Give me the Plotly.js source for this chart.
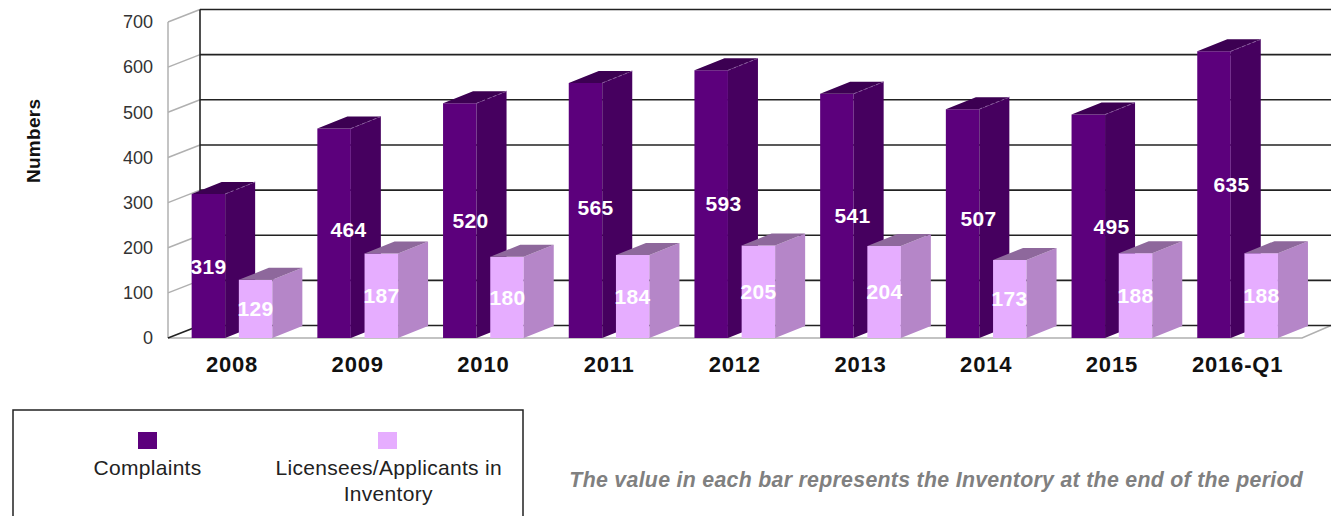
<!DOCTYPE html>
<html>
<head>
<meta charset="utf-8">
<title>Complaints and Licensees/Applicants in Inventory</title>
<script src="https://cdn.plot.ly/plotly-3.0.1.min.js"></script>
<style>
  html, body { margin: 0; padding: 0; background: #fff; overflow: hidden; }
  #chart { width: 1340px; height: 516px; }
  #chart .xtick text { letter-spacing: 0.8px; }
  #chart .annotation-text { letter-spacing: 0.3px; }
</style>
</head>
<body>
<div id="chart"></div>
<script>
// Chart values
const categories = ['2008', '2009', '2010', '2011', '2012', '2013', '2014', '2015', '2016-Q1'];
const complaints = [319, 464, 520, 565, 593, 541, 507, 495, 635];
const inventory = [129, 187, 180, 184, 205, 204, 173, 188, 188];
const yTicks = [0, 100, 200, 300, 400, 500, 600, 700];

// Pixel nudges for the complaint value labels, which do not sit at bar centres
const complaintLabelDx = [0, 14, 11, 10, 12, 16, 16, 23, 17];
const complaintLabelDy = [0, 4, 0, 3, 1, 0, 5, 0, 10];

// Colours of the three visible faces of each bar
const darkFaces = { front: '#5c007c', side: '#46005f', top: '#3c0052' };
const lightFaces = { front: '#e6adff', side: '#b586c8', top: '#8e689c' };

const W = 1340, H = 516;
const plotLeft = 164, plotRight = 1336, plotTop = 4, plotBottom = 342;

// Scales: one category step is 125.7 px, one value unit is 0.4514 px
const pxPerCat = 125.7, pxPerVal = 0.4514;
const firstCentre = 232, zeroPx = 338;
const xAt = px => (px - firstCentre) / pxPerCat;
const xRange = [xAt(plotLeft), xAt(plotRight)];
const yRange = [(zeroPx - plotBottom) / pxPerVal, (zeroPx - plotTop) / pxPerVal];

// Bar and oblique-projection sizes, in axis units
const barWidth = 33.5 / pxPerCat;
const barOffset = 23.6 / pxPerCat;
const depthX = 30 / pxPerCat;
const depthY = 12 / pxPerVal;
const wallY = 12.5 / pxPerVal;
const frontLeft = xAt(168), backLeft = xAt(200);
const frontEnd = xAt(1302), backEnd = xAt(1331);

const idx = categories.map((_, i) => i);

function polygons(values, shift, corners) {
  const xs = [], ys = [];
  values.forEach((v, i) => {
    corners(i + shift, v).forEach(c => { xs.push(c[0]); ys.push(c[1]); });
    xs.push(null); ys.push(null);
  });
  return { x: xs, y: ys };
}
const sideFace = (x, v) => {
  const r = x + barWidth / 2;
  return [[r, 0], [r + depthX, depthY], [r + depthX, v + depthY], [r, v], [r, 0]];
};
const topFace = (x, v) => {
  const l = x - barWidth / 2, r = x + barWidth / 2;
  return [[l, v], [l + depthX, v + depthY], [r + depthX, v + depthY], [r, v], [l, v]];
};

function faceTrace(values, shift, corners, color, axes) {
  const p = polygons(values, shift, corners);
  return {
    type: 'scatter', mode: 'lines', x: p.x, y: p.y, fill: 'toself', fillcolor: color,
    line: { width: 0, color: color }, hoverinfo: 'skip', showlegend: false,
    xaxis: axes[0], yaxis: axes[1]
  };
}

function barSeries(name, values, shift, faces, axes) {
  return [
    {
      type: 'bar', name: name, x: idx.map(i => i + shift), y: values, width: barWidth,
      marker: { color: faces.front, line: { width: 0 } }, showlegend: false,
      xaxis: axes[0], yaxis: axes[1]
    },
    faceTrace(values, shift, sideFace, faces.side, axes),
    faceTrace(values, shift, topFace, faces.top, axes)
  ];
}

// Dotted highlight along the back top edge of the dark bars' side faces
function edgeTrace(values, shift, color, axes) {
  const p = polygons(values, shift, (x, v) => {
    const r = x + barWidth / 2;
    return [[r, v], [r + depthX, v + depthY]];
  });
  return {
    type: 'scatter', mode: 'lines', x: p.x, y: p.y, line: { width: 1, color: color, dash: 'dot' },
    hoverinfo: 'skip', showlegend: false, xaxis: axes[0], yaxis: axes[1]
  };
}

// Back wall, left wall and floor edges
const gridX = [], gridY = [], sideX = [], sideY = [];
yTicks.forEach(t => {
  gridX.push(backLeft, backEnd, null);
  gridY.push(t + wallY, t + wallY, null);
  if (t > 0) {
    sideX.push(frontLeft, backLeft, null);
    sideY.push(t, t + wallY, null);
  }
});
const topTick = yTicks[yTicks.length - 1];
gridX.push(backLeft, backLeft, null, frontLeft, backLeft);
gridY.push(wallY, topTick + wallY, null, 0, wallY);
sideX.push(frontLeft, frontLeft, null, frontLeft, frontEnd, backEnd);
sideY.push(0, topTick, null, 0, 0, wallY);

const traces = [
  {
    type: 'scatter', mode: 'lines', x: sideX, y: sideY, cliponaxis: false,
    line: { color: '#b0b0b0', width: 1.5 }, hoverinfo: 'skip', showlegend: false
  },
  {
    type: 'scatter', mode: 'lines', x: gridX, y: gridY, cliponaxis: false,
    line: { color: '#222222', width: 1.6 }, hoverinfo: 'skip', showlegend: false
  },
  ...barSeries('Complaints', complaints, -barOffset, darkFaces, ['x2', 'y2']),
  edgeTrace(complaints, -barOffset, '#8a5aa0', ['x2', 'y2']),
  ...barSeries('Licensees/Applicants in Inventory', inventory, barOffset, lightFaces, ['x3', 'y3'])
];

const labelFont = { family: 'Liberation Sans', size: 21, color: '#ffffff', weight: 700 };
const legendFont = { family: 'Liberation Sans', size: 21, color: '#222222' };

const annotations = [];
complaints.forEach((v, i) => annotations.push({
  x: i - barOffset, y: v / 2, xref: 'x', yref: 'y', text: String(v), showarrow: false,
  xanchor: 'center', yanchor: 'middle',
  xshift: complaintLabelDx[i], yshift: complaintLabelDy[i], font: labelFont
}));
inventory.forEach((v, i) => annotations.push({
  x: i + barOffset, y: v / 2, xref: 'x', yref: 'y', text: String(v), showarrow: false,
  xanchor: 'center', yanchor: 'middle', font: labelFont
}));

const paperText = (px, py, text, font, extra) => Object.assign({
  x: px / W, y: 1 - py / H, xref: 'paper', yref: 'paper', text: text, showarrow: false,
  xanchor: 'center', yanchor: 'middle', font: font
}, extra || {});

annotations.push(
  paperText(33, 141, 'Numbers', { family: 'Liberation Sans', size: 19, color: '#111111', weight: 700 }, { textangle: -90 }),
  paperText(147, 467, 'Complaints', legendFont),
  paperText(388, 467, 'Licensees/Applicants in', legendFont),
  paperText(388, 493, 'Inventory', legendFont),
  paperText(936, 480, 'The value in each bar represents the Inventory at the end of the period',
    { family: 'Liberation Sans', size: 21.3, color: '#808080', weight: 700, style: 'italic' })
);

// Legend frame runs off the lower edge of the page
const paperRect = (x0, y0, x1, y1, fill, lineColor, lineWidth) => ({
  type: 'rect', xref: 'paper', yref: 'paper',
  x0: x0 / W, x1: x1 / W, y0: 1 - y1 / H, y1: 1 - y0 / H,
  fillcolor: fill, line: { color: lineColor, width: lineWidth }
});
const shapes = [
  paperRect(13, 410, 523, 530, 'rgba(0,0,0,0)', '#222222', 1.5),
  paperRect(138, 432, 157, 449, darkFaces.front, darkFaces.front, 0),
  paperRect(378, 432, 397, 449, lightFaces.front, lightFaces.front, 0)
];

const xDomain = [plotLeft / W, plotRight / W];
const yDomain = [1 - plotBottom / H, 1 - plotTop / H];
const hiddenX = { domain: xDomain, range: xRange, visible: false, overlaying: 'x', fixedrange: true };
const hiddenY = { domain: yDomain, range: yRange, visible: false, overlaying: 'y', fixedrange: true };

const layout = {
  width: W, height: H,
  margin: { l: 0, r: 0, t: 0, b: 0 },
  paper_bgcolor: '#ffffff', plot_bgcolor: 'rgba(0,0,0,0)',
  showlegend: false, hovermode: false,
  xaxis: {
    domain: xDomain, range: xRange, type: 'linear', tickmode: 'array', tickvals: idx, ticktext: categories,
    showgrid: false, zeroline: false, showline: false, ticks: '', ticklabelstandoff: 7, fixedrange: true,
    tickfont: { family: 'Liberation Sans', size: 22, color: '#111111', weight: 700 }
  },
  yaxis: {
    domain: yDomain, range: yRange, type: 'linear', tickmode: 'array', tickvals: yTicks,
    showgrid: false, zeroline: false, showline: false, ticks: '', ticklabelstandoff: 10, fixedrange: true,
    tickfont: { family: 'Liberation Sans', size: 18, color: '#333333' }
  },
  xaxis2: Object.assign({ anchor: 'y2' }, hiddenX),
  yaxis2: Object.assign({ anchor: 'x2' }, hiddenY),
  xaxis3: Object.assign({ anchor: 'y3' }, hiddenX),
  yaxis3: Object.assign({ anchor: 'x3' }, hiddenY),
  annotations: annotations,
  shapes: shapes
};

Plotly.newPlot('chart', traces, layout, { displayModeBar: false, staticPlot: true });
</script>
</body>
</html>
